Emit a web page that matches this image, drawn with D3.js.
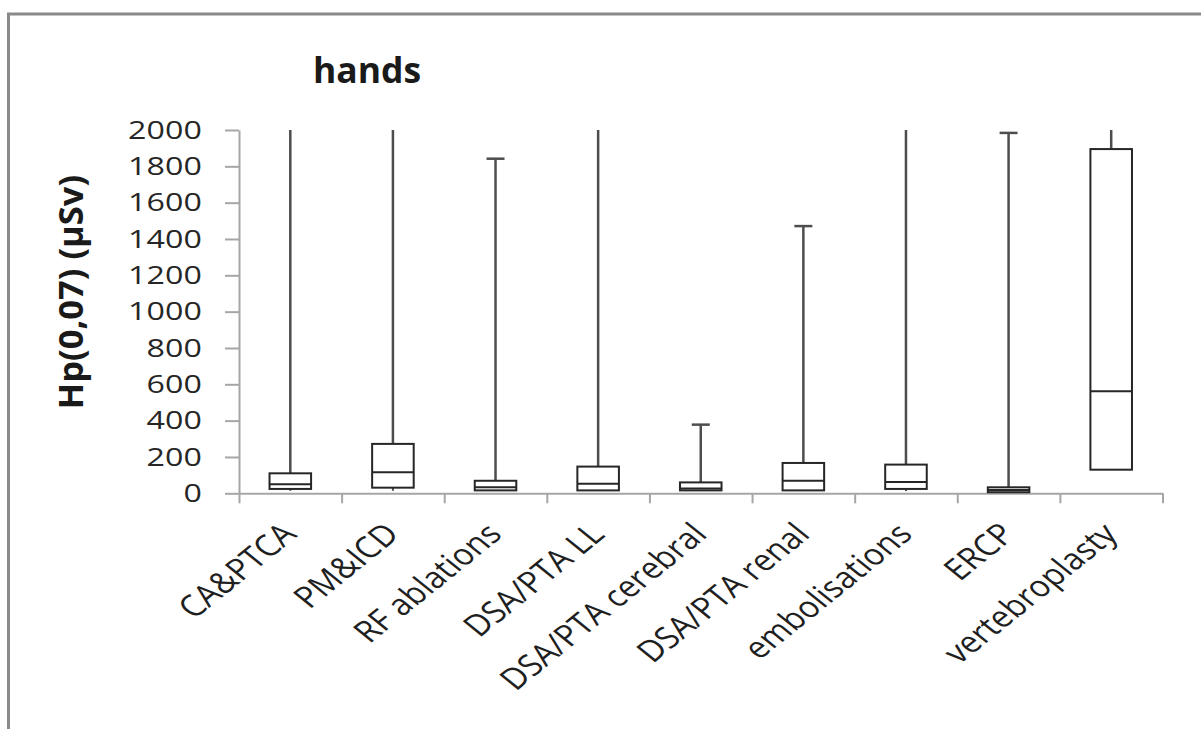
<!DOCTYPE html>
<head>
<meta charset="utf-8">
<script src="https://d3js.org/d3.v7.min.js"></script>
<style>
  body{ margin:0; background:#fff; }
  text{ font-family: "Open Sans", sans-serif; fill:#1a1a1a; }
  text.title{ font-size:35.5px; font-weight:700; }
  text.yTitle{ font-size:34.5px; font-weight:700; }
  .yAxis .tick text{ font-size:26px; fill:#262626; }
  text.xLabel{ font-size:30px; fill:#1f1f1f; }
  .domain, .tick line{ stroke:#a6a6a6; stroke-width:2; }
</style>
<title>hands</title>
</head>
<body>
<script>
const width = 1201;
const height = 729;

// procedures
const categories = ['CA&PTCA', 'PM&ICD', 'RF ablations', 'DSA/PTA LL', 'DSA/PTA cerebral',
                    'DSA/PTA renal', 'embolisations', 'ERCP', 'vertebroplasty'];
// box plot stats, Hp(0,07) in µSv  (max > 2000 = off the scale in the picture)
const whiskerLow  = [14, 14, 16, 16, 16, 16, 12, 6, 130];
const q1          = [24, 31, 16, 16, 16, 16, 24, 6, 130];
const median      = [50, 116, 33, 53, 26, 69, 62, 18, 562];
const q3          = [110, 272, 69, 147, 60, 167, 158, 33, 1895];
const whiskerHigh = [2500, 2500, 1842, 2500, 378, 1471, 2500, 1984, 2500];
const yTicks = [0, 200, 400, 600, 800, 1000, 1200, 1400, 1600, 1800, 2000];

const yMax = 2000;
const margin = {top:130, left:239, right:38.5, bottom:235.7};
const stretch = 1.24;   // the picture is a bit wider than tall in its text

const svg = d3.select('body').append('svg')
   .attr('width', width)
   .attr('height', height);

// frame (only left and top edges show in the picture)
svg.append('path')
   .attr('d', `M8.5,${height} V14 H${width}`)
   .attr('fill', 'none')
   .attr('stroke', '#8a8a8a')
   .attr('stroke-width', 3);

const y = d3.scaleLinear()
   .domain([0, yMax])
   .range([height-margin.bottom, margin.top]);

const x = d3.scaleBand()
   .domain(categories)
   .range([margin.left, width-margin.right])
   .padding(0);

// boundaries between categories, for the x tick marks
const xb = d3.scaleLinear()
   .domain([0, categories.length])
   .range(x.range());

svg.append('g')
   .attr('class', 'yAxis')
   .attr('transform', `translate(${margin.left},0)`)
   .call(d3.axisLeft(y).tickValues(yTicks).tickFormat(d3.format('d'))
           .tickSize(14).tickSizeOuter(0).tickPadding(16))
   .selectAll('.tick text')
   .attr('transform', `scale(${stretch},1)`);

svg.append('g')
   .attr('class', 'xAxis')
   .attr('transform', `translate(0,${y(0)})`)
   .call(d3.axisBottom(xb).tickValues(d3.range(categories.length+1)).tickSize(10).tickSizeOuter(0).tickFormat(''));

const boxes = categories.map((c, i) => ({
   name: c, lo: whiskerLow[i], q1: q1[i], med: median[i], q3: q3[i], hi: whiskerHigh[i]
}));

const bw = x.bandwidth()*0.405;
const cx = d => x(d.name) + x.bandwidth()/2;
const cy = v => y(Math.min(v, yMax));

const g = svg.append('g').attr('class', 'boxes');

// whiskers
g.selectAll('line.upper')
   .data(boxes)
   .enter().append('line')
   .attr('class', 'upper')
   .attr('x1', cx).attr('x2', cx)
   .attr('y1', d => cy(d.q3)).attr('y2', d => cy(d.hi))
   .attr('stroke', '#4d4d4d').attr('stroke-width', 2.5);

g.selectAll('line.cap')
   .data(boxes.filter(d => d.hi <= yMax))
   .enter().append('line')
   .attr('class', 'cap')
   .attr('x1', d => cx(d)-9).attr('x2', d => cx(d)+9)
   .attr('y1', d => cy(d.hi)).attr('y2', d => cy(d.hi))
   .attr('stroke', '#4d4d4d').attr('stroke-width', 2.5);

g.selectAll('line.lower')
   .data(boxes.filter(d => d.lo < d.q1))
   .enter().append('line')
   .attr('class', 'lower')
   .attr('x1', cx).attr('x2', cx)
   .attr('y1', d => cy(d.q1)).attr('y2', d => cy(d.lo))
   .attr('stroke', '#4d4d4d').attr('stroke-width', 2);

g.selectAll('rect.box')
   .data(boxes)
   .enter().append('rect')
   .attr('class', 'box')
   .attr('x', d => cx(d)-bw/2)
   .attr('width', bw)
   .attr('y', d => cy(d.q3))
   .attr('height', d => Math.max(1, cy(d.q1)-cy(d.q3)))
   .attr('fill', '#fff')
   .attr('stroke', '#262626')
   .attr('stroke-width', 2);

g.selectAll('line.median')
   .data(boxes)
   .enter().append('line')
   .attr('class', 'median')
   .attr('x1', d => cx(d)-bw/2).attr('x2', d => cx(d)+bw/2)
   .attr('y1', d => cy(d.med)).attr('y2', d => cy(d.med))
   .attr('stroke', '#262626').attr('stroke-width', 2);

// category labels, rotated (narrowed along the baseline, like the original face)
svg.selectAll('text.xLabel')
   .data(categories)
   .enter().append('text')
   .attr('class', 'xLabel')
   .attr('transform', d => `translate(${x(d)+x.bandwidth()/2+8},536) scale(${stretch},1) rotate(-45) scale(0.9,1)`)
   .style('text-anchor', 'end')
   .text(d => d);

svg.append('text')
   .attr('class', 'title')
   .attr('x', 313)
   .attr('y', 83)
   .text('hands');

svg.append('text')
   .attr('class', 'yTitle')
   .attr('transform', 'translate(71,292) rotate(-90)')
   .attr('dy', '0.35em')
   .style('text-anchor', 'middle')
   .text('Hp(0,07) (µSv)');
</script>
</body>
